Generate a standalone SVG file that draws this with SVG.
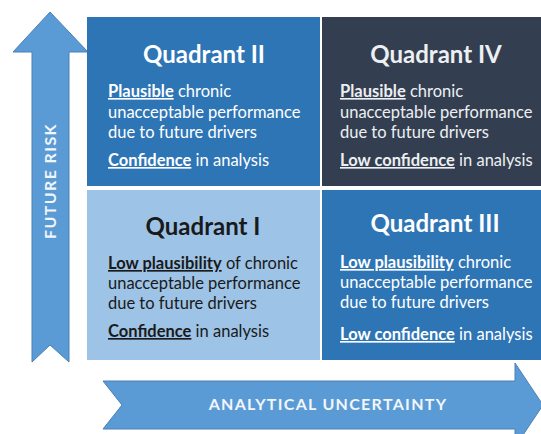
<svg xmlns="http://www.w3.org/2000/svg" width="541" height="434" viewBox="0 0 541 434">
<style>
.arrow{fill:#5B9BD5;stroke:#4A80B5;stroke-width:1}
.title{font-family:Lato,"Liberation Sans",Arial,sans-serif;font-weight:bold;font-size:24px;text-anchor:middle}
.body{font-family:Lato,"Liberation Sans",Arial,sans-serif;font-size:16.5px}
.b{font-weight:bold;text-decoration:underline}
.lbl{font-family:Lato,"Liberation Sans",Arial,sans-serif;font-weight:bold;font-size:16px;fill:#F2F6FB;text-anchor:middle}
.w{fill:#FFFFFF}
.lw{fill:#EDEFF2}
.dk{fill:#1A1A1A}
</style>
<rect width="541" height="434" fill="#FFFFFF"/>
<g id="axis-risk">
<path class="arrow" d="M50,12 L88,52 L69,52 L69,362 L50,345 L32,362 L32,52 L13,52 Z"/>
<text class="lbl" transform="translate(56,181) rotate(-90)" letter-spacing="1.4">FUTURE RISK</text>
</g>
<g id="axis-uncertainty">
<path class="arrow" d="M103,381 L515,381 L515,363 L543,405 L515,447 L515,429 L103,429 L122,405 Z"/>
<text class="lbl" x="328" y="410" letter-spacing="1.3" font-size="16.5">ANALYTICAL UNCERTAINTY</text>
</g>
<g id="quadrant-2">
<rect x="87" y="17" width="233" height="169" fill="#2E75B6"/>
<text class="title w" x="204" y="63">Quadrant II</text>
<text class="body w" x="108" y="97"><tspan class="b">Plausible</tspan> chronic</text>
<text class="body w" x="108" y="118">unacceptable performance</text>
<text class="body w" x="108" y="138">due to future drivers</text>
<text class="body w" x="108" y="166"><tspan class="b">Confidence</tspan> in analysis</text>
</g>
<g id="quadrant-4">
<rect x="322" y="17" width="219" height="169" fill="#333F50"/>
<text class="title lw" x="436" y="63">Quadrant IV</text>
<text class="body lw" x="340" y="97"><tspan class="b">Plausible</tspan> chronic</text>
<text class="body lw" x="340" y="118">unacceptable performance</text>
<text class="body lw" x="340" y="138">due to future drivers</text>
<text class="body lw" x="340" y="166"><tspan class="b">Low confidence</tspan> in analysis</text>
</g>
<g id="quadrant-1">
<rect x="87" y="190" width="233" height="170" fill="#9DC3E6"/>
<text class="title dk" x="203" y="235">Quadrant I</text>
<text class="body dk" x="108" y="269"><tspan class="b">Low plausibility</tspan> of chronic</text>
<text class="body dk" x="108" y="289">unacceptable performance</text>
<text class="body dk" x="108" y="309">due to future drivers</text>
<text class="body dk" x="108" y="337"><tspan class="b">Confidence</tspan> in analysis</text>
</g>
<g id="quadrant-3">
<rect x="322" y="190" width="219" height="170" fill="#2E75B6"/>
<text class="title w" x="435" y="232">Quadrant III</text>
<text class="body w" x="340" y="268"><tspan class="b">Low plausibility</tspan> chronic</text>
<text class="body w" x="340" y="288">unacceptable performance</text>
<text class="body w" x="340" y="308">due to future drivers</text>
<text class="body w" x="340" y="340"><tspan class="b">Low confidence</tspan> in analysis</text>
</g>
</svg>
